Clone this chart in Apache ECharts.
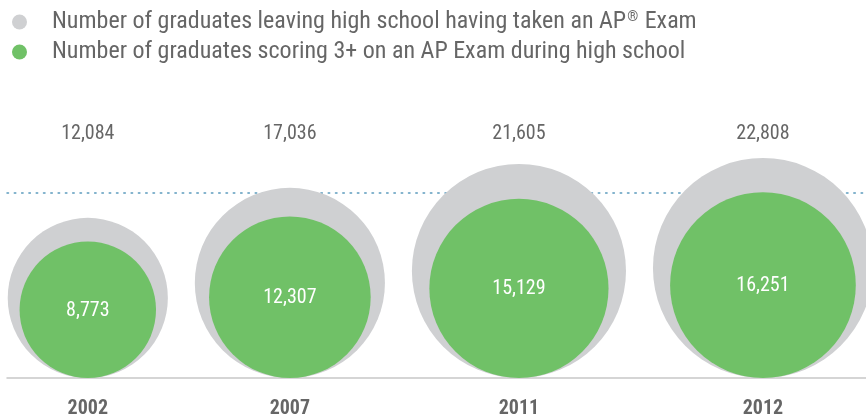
<!DOCTYPE html>
<html>
<head>
<meta charset="utf-8">
<script src="https://cdn.jsdelivr.net/npm/echarts@6/dist/echarts.min.js"></script>
<style>
  html, body { margin: 0; padding: 0; background: #fff; }
  #chart { width: 866px; height: 420px; }
</style>
</head>
<body>
<div id="chart"></div>
<script>
const years = ['2002', '2007', '2011', '2012'];
const takenAP = [12084, 17036, 21605, 22808];
const scored3 = [8773, 12307, 15129, 16251];
const seriesNames = [
  'Number of graduates leaving high school having taken an AP® Exam',
  'Number of graduates scoring 3+ on an AP Exam during high school'
];

const FONT = "'Roboto Condensed', 'Liberation Sans Narrow', sans-serif";
const GRAY = '#cfd0d2';
const GREEN = '#70c167';
const TEXT = '#666666';

// axis units are sqrt(value), so circle area follows the value
const gridLeft = 7, gridTop = 193, gridBottom = 42;
const Y_MAX = 254;
const pxPerUnit = (420 - gridTop - gridBottom) / Y_MAX;
const X_MAX = (866 - gridLeft) / pxPerUnit;

// lay the bubbles side by side, each one as wide as its gray circle
const PAD = 1, GAP = 37;
const centers = [];
let cursor = PAD;
takenAP.forEach(v => {
  const r = Math.sqrt(v);
  centers.push(cursor + r);
  cursor += 2 * r + GAP;
});

const fmt = v => v.toLocaleString('en-US');

function bubble(color, withOuterLabels) {
  return (params, api) => {
    const i = params.dataIndex;
    const value = api.value(1);
    const base = api.coord([api.value(0), 0]);
    const r = api.size([0, Math.sqrt(value)])[1];
    const children = [{
      type: 'circle',
      shape: { cx: base[0], cy: base[1] - r, r: r },
      style: { fill: color }
    }];
    if (withOuterLabels) {
      children.push({
        type: 'text',
        x: base[0], y: base[1] - 244,
        style: {
          text: fmt(value), fill: TEXT, fontSize: 20, fontFamily: FONT,
          align: 'center', verticalAlign: 'middle'
        }
      });
      children.push({
        type: 'text',
        x: base[0], y: base[1] + 31,
        style: {
          text: years[i], fill: TEXT, fontSize: 20, fontWeight: 'bold', fontFamily: FONT,
          align: 'center', verticalAlign: 'middle'
        }
      });
    } else {
      children.push({
        type: 'text',
        x: base[0], y: base[1] - r + 1,
        style: {
          text: fmt(value), fill: '#ffffff', fontSize: 20, fontFamily: FONT,
          align: 'center', verticalAlign: 'middle'
        }
      });
    }
    return { type: 'group', children: children };
  };
}

const chart = echarts.init(document.getElementById('chart'));
chart.setOption({
  animation: false,
  legend: {
    orient: 'vertical',
    left: 7,
    top: 5,
    icon: 'circle',
    itemWidth: 15,
    itemHeight: 15,
    itemGap: 6,
    selectedMode: false,
    formatter: name => name.replace('®', '{sup|®}'),
    textStyle: {
      color: TEXT, fontSize: 24, fontFamily: FONT, lineHeight: 24,
      padding: [0, 0, 0, 20],
      rich: {
        sup: {
          color: TEXT, fontSize: 14, fontFamily: FONT,
          verticalAlign: 'top', lineHeight: 24, padding: [0, 1, 0, 1]
        }
      }
    },
    data: seriesNames
  },
  grid: { left: gridLeft, right: 0, top: gridTop, bottom: gridBottom },
  xAxis: [{
    type: 'value', min: 0, max: X_MAX, position: 'bottom',
    axisLine: { show: true, onZero: false, lineStyle: { color: '#c8c8c8', width: 1.5 } },
    axisTick: { show: false }, axisLabel: { show: false }, splitLine: { show: false }
  }, {
    type: 'value', min: 0, max: X_MAX, position: 'top',
    axisLine: { show: true, onZero: false, lineStyle: { color: '#5b9bbd', width: 1.5, type: [1.5, 5.8] } },
    axisTick: { show: false }, axisLabel: { show: false }, splitLine: { show: false }
  }],
  yAxis: {
    type: 'value', min: 0, max: Y_MAX, show: false,
    splitLine: { show: false }
  },
  series: [{
    name: seriesNames[0],
    type: 'custom',
    itemStyle: { color: GRAY },
    renderItem: bubble(GRAY, true),
    data: takenAP.map((v, i) => [centers[i], v])
  }, {
    name: seriesNames[1],
    type: 'custom',
    itemStyle: { color: GREEN },
    renderItem: bubble(GREEN, false),
    data: scored3.map((v, i) => [centers[i], v])
  }]
});
</script>
</body>
</html>
